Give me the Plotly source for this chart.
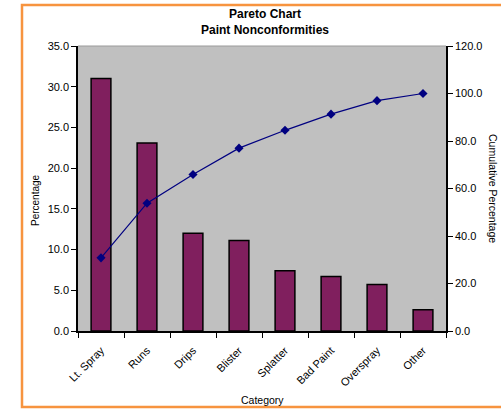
import plotly.graph_objects as go

# Paint nonconformity categories, sorted by frequency
categories = ["Lt. Spray", "Runs", "Drips", "Blister", "Splatter", "Bad Paint", "Overspray", "Other"]
percentage = [31.0, 23.1, 12.0, 11.1, 7.4, 6.7, 5.7, 2.6]
cumulative = [30.8, 53.8, 65.9, 77.0, 84.5, 91.3, 97.0, 100.0]

left_ticks = [0, 5, 10, 15, 20, 25, 30, 35]
right_ticks = [0, 20, 40, 60, 80, 100, 120]

FONT = "Liberation Sans, Arial, sans-serif"

fig = go.Figure()

fig.add_trace(go.Bar(
    x=categories, y=percentage,
    marker=dict(color="#801F5E", line=dict(color="#000000", width=1.5)),
    yaxis="y", showlegend=False,
))

fig.add_trace(go.Scatter(
    x=categories, y=cumulative,
    mode="lines+markers",
    line=dict(color="#000080", width=1.2),
    marker=dict(symbol="diamond", size=7, color="#000080"),
    yaxis="y2", showlegend=False,
))

W, H = 501, 409
L, R, T, B = 78, 55, 46, 78
pw, ph = W - L - R, H - T - B


def px_x(p):
    return (p - L) / pw


def px_y(p):
    return (H - B - p) / ph


fig.update_layout(
    width=W, height=H,
    margin=dict(l=L, r=R, t=T, b=B, pad=0),
    paper_bgcolor="white",
    plot_bgcolor="#C0C0C0",
    bargap=0.57,
    font=dict(family=FONT, size=10, color="#000000"),
    xaxis=dict(
        type="category",
        showline=True, linecolor="#000000", linewidth=1.5,
        ticks="outside", ticklen=5, tickcolor="#000000",
        tickson="boundaries",
        tickangle=-45,
        ticklabelstandoff=7,
        tickfont=dict(size=11),
        showgrid=False, zeroline=False,
        mirror=False,
    ),
    yaxis=dict(
        range=[0, 35],
        tickvals=left_ticks,
        ticktext=[f"{v:.1f}" for v in left_ticks],
        showline=True, linecolor="#000000", linewidth=1.5,
        ticks="outside", ticklen=5, tickcolor="#000000",
        showgrid=False, zeroline=False,
        tickfont=dict(size=11),
    ),
    yaxis2=dict(
        range=[0, 120],
        tickvals=right_ticks,
        ticktext=[f"{v:.1f}" for v in right_ticks],
        overlaying="y", side="right",
        showline=True, linecolor="#000000", linewidth=1.5,
        ticks="outside", ticklen=5, tickcolor="#000000",
        showgrid=False, zeroline=False,
        tickfont=dict(size=11),
    ),
    annotations=[
        dict(text="<b>Pareto Chart</b><br><b>Paint Nonconformities</b>",
             x=px_x(265), y=px_y(22), xref="paper", yref="paper",
             xanchor="center", yanchor="middle", showarrow=False,
             font=dict(size=12, family=FONT)),
        dict(text="Percentage", x=px_x(35), y=px_y(200), xref="paper", yref="paper",
             textangle=-90, xanchor="center", yanchor="middle", showarrow=False,
             font=dict(size=10, family=FONT)),
        dict(text="Cumulative Percentage", x=px_x(493), y=px_y(188), xref="paper", yref="paper",
             textangle=90, xanchor="center", yanchor="middle", showarrow=False,
             font=dict(size=10.5, family=FONT)),
        dict(text="Category", x=px_x(262), y=px_y(400), xref="paper", yref="paper",
             xanchor="center", yanchor="middle", showarrow=False,
             font=dict(size=10.5, family=FONT)),
    ],
    shapes=[
        # gray top edge of the plot area
        dict(type="line", xref="paper", yref="paper", x0=0, x1=1, y0=1, y1=1,
             line=dict(color="#9A9A9A", width=1)),
        # orange frame around the chart
        dict(type="rect", xref="paper", yref="paper",
             x0=px_x(22), x1=px_x(520), y0=px_y(407), y1=px_y(5),
             line=dict(color="#F7943F", width=2.5), fillcolor="rgba(0,0,0,0)",
             layer="above"),
    ],
)

fig.write_html("out.html")
